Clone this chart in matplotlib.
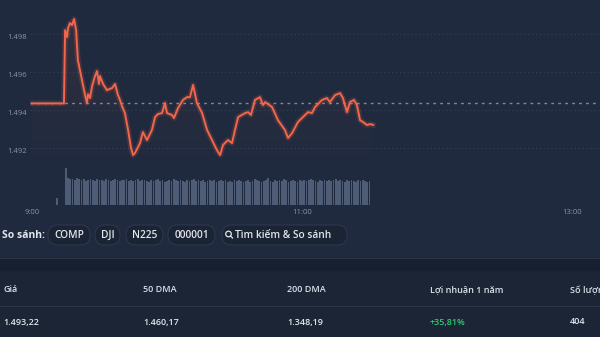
import numpy as np
import matplotlib.pyplot as plt
from matplotlib.patches import FancyBboxPatch, Circle, Rectangle
from matplotlib.lines import Line2D
from matplotlib.ticker import FuncFormatter
from matplotlib.colors import LinearSegmentedColormap

plt.rcParams['font.family'] = ['Open Sans', 'DejaVu Sans']

# minutes after 9:00 and index level
t_min = [0, 14.2, 14.7, 15.6, 16.0, 16.9, 17.8, 18.7, 19.6, 20.4, 22.2, 23.6, 24.4, 24.9,
         25.8, 26.7, 28.0, 28.9, 29.8, 30.2, 31.6, 33.3, 35.6, 36.9, 38.2, 39.1, 40.0,
         41.3, 42.7, 44.0, 44.9, 45.8, 48.0, 49.3, 51.1, 53.3, 54.7, 56.0, 57.8, 59.1,
         60.0, 62.2, 63.1, 64.9, 67.1, 68.9, 70.2, 71.6, 73.3, 75.6, 77.8, 80.0, 82.2,
         83.6, 84.9, 87.1, 88.9, 90.2, 91.6, 94.7, 96.0, 97.3, 99.1, 101.3, 102.7, 103.6,
         106.7, 109.3, 112.4, 113.8, 115.6, 118.2, 120.4, 122.7, 124.4, 125.8, 128.9,
         131.1, 132.4, 134.7, 136.9, 138.2, 140.0, 141.3, 143.1, 144.4, 145.8, 147.1,
         148.9, 150.2, 151.6]
price = [1494.35, 1494.35, 1498.21, 1497.84, 1498.32, 1498.58, 1498.47, 1498.79, 1498.21,
         1496.63, 1495.58, 1494.79, 1494.37, 1494.84, 1494.63, 1495.26, 1495.79, 1496.05,
         1495.37, 1495.79, 1495.37, 1495.05, 1495.16, 1495.37, 1494.79, 1494.53, 1494.21,
         1493.84, 1492.95, 1492.00, 1491.63, 1491.74, 1492.26, 1492.84, 1492.42, 1492.95,
         1493.63, 1493.79, 1493.84, 1494.37, 1493.84, 1493.74, 1493.58, 1494.11, 1494.53,
         1494.68, 1494.68, 1495.32, 1494.37, 1493.84, 1492.95, 1492.42, 1491.89, 1491.63,
         1492.16, 1492.42, 1492.26, 1492.95, 1493.63, 1493.84, 1493.89, 1493.74, 1494.53,
         1494.68, 1494.26, 1494.42, 1494.16, 1493.47, 1492.95, 1492.53, 1492.79, 1493.37,
         1493.63, 1493.89, 1493.84, 1494.16, 1494.53, 1494.63, 1494.42, 1494.79, 1494.89,
         1494.63, 1493.89, 1494.42, 1494.53, 1494.26, 1493.47, 1493.37, 1493.21, 1493.26,
         1493.22]
ref_price = 1494.35

vol_t = [11] + list(range(15, 151))
volume = [7, 35, 26, 25, 25, 24, 26, 25, 24, 25, 23, 24, 25, 24, 23, 25, 24, 24, 23, 25,
          24, 23, 24, 25, 24, 23, 24, 24, 25, 23, 24, 23, 24, 25, 23, 24, 24, 23, 22, 24,
          23, 24, 25, 23, 24, 22, 23, 24, 23, 25, 24, 23, 24, 23, 22, 24, 23, 24, 25, 23,
          24, 23, 24, 22, 23, 24, 23, 24, 22, 23, 24, 23, 24, 22, 23, 22, 24, 23, 24, 23,
          22, 23, 24, 22, 23, 25, 24, 23, 22, 23, 24, 26, 23, 22, 24, 23, 24, 23, 25, 24,
          22, 23, 24, 23, 22, 24, 23, 24, 23, 24, 25, 24, 23, 22, 24, 23, 24, 23, 24, 23,
          24, 25, 23, 24, 23, 22, 24, 23, 24, 23, 22, 24, 23, 24, 23, 22, 23]

x_ticks = [0, 120, 240]
x_labels = ['9:00', '11:00', '13:00']
y_ticks = [1492, 1494, 1496, 1498]

headers = ['Giá', '50 DMA', '200 DMA', 'Lợi nhuận 1 năm', 'Số lượng']
values = ['1.493,22', '1.460,17', '1.348,19', '+35,81%', '404']
compare = ['COMP', 'DJI', 'N225', '000001']

BG = '#1f2a3e'
BG2 = '#1c2536'
LINE = '#f2664b'
GREY = '#8b94a6'
TXT = '#e2e6ec'
W, H = 600, 337

fig = plt.figure(figsize=(6, 3.37), dpi=100, facecolor=BG)


def fx(px):
    return px / W


def fy(py):
    return 1 - py / H


# lower panel backgrounds
fig.add_artist(Rectangle((0, 0), 1, fy(258), transform=fig.transFigure, color=BG2, zorder=0))
fig.add_artist(Rectangle((0, fy(270)), 1, fy(258) - fy(270), transform=fig.transFigure,
                         color='#172030', zorder=0))
fig.add_artist(Line2D([0, 1], [fy(258), fy(258)], transform=fig.transFigure, color='#2a3446', lw=0.8))
fig.add_artist(Line2D([0, 1], [fy(306), fy(306)], transform=fig.transFigure, color='#2a3446', lw=0.8))

# price chart
x0 = -2 / 2.25
x1 = 568 / 2.25
y0, y1 = 1490.5, 1499.53
ax = fig.add_axes([fx(30), fy(160), fx(570), 155 / H])
ax.set_facecolor('none')
ax.set_xlim(x0, x1)
ax.set_ylim(1491.37, y1)

# soft gradient under the line
poly = ax.fill_between(t_min, price, y0, color='none', lw=0)
cmap = LinearSegmentedColormap.from_list('g', [(0.95, 0.4, 0.3, 0.0), (0.95, 0.4, 0.3, 0.09)])
grad = np.linspace(0, 1, 100).reshape(-1, 1)
im = ax.imshow(grad, cmap=cmap, aspect='auto', origin='lower',
               extent=[x0, x1, y0, 1498.9], zorder=1)
im.set_clip_path(poly.get_paths()[0], transform=ax.transData)
ax.set_xlim(x0, x1)
ax.set_ylim(1491.37, y1)

ax.plot(t_min, price, color=LINE, lw=4, alpha=0.18, solid_joinstyle='round', zorder=3)
ax.plot(t_min, price, color=LINE, lw=1.4, solid_joinstyle='round', zorder=4)
ax.axhline(ref_price, color='#7e889b', lw=1.0, ls=(0, (2, 3)), zorder=2)
ax.set_yticks(y_ticks)
ax.yaxis.set_major_formatter(FuncFormatter(lambda v, p: '{:,.0f}'.format(v).replace(',', '.')))
ax.grid(axis='y', color='#3a4559', lw=0.7, ls=(0, (1, 3)))
ax.set_xticks([])
ax.tick_params(axis='y', length=0, pad=2, labelsize=5.5, labelcolor=GREY)
for lbl in ax.get_yticklabels():
    lbl.set_va('top')
for s in ax.spines.values():
    s.set_visible(False)

# volume bars
axv = fig.add_axes([fx(30), fy(205), fx(570), 40 / H])
axv.set_facecolor('none')
axv.set_xlim(x0, x1)
axv.set_ylim(0, 38)
axv.bar(vol_t, volume, width=0.8, color='#5b6983', alpha=0.8, lw=0)
axv.set_yticks([])
axv.set_xticks(x_ticks)
axv.set_xticklabels(x_labels)
axv.tick_params(axis='x', length=0, pad=3, labelsize=5.5, labelcolor=GREY)
for s in axv.spines.values():
    s.set_visible(False)

# compare row
fig.text(fx(2), fy(235), 'So sánh:', color=TXT, fontsize=7.5, fontweight='bold', va='center')
pill_x = [(48, 90), (95, 120), (126, 163), (168, 215), (222, 347)]
for (a, b), name in zip(pill_x, compare + ['Tìm kiếm & So sánh']):
    fig.add_artist(FancyBboxPatch((fx(a), fy(245)), fx(b - a), 20 / H,
                                  boxstyle='round,pad=0,rounding_size=0.016',
                                  transform=fig.transFigure, fc='#1b2434', ec='#2c374b', lw=0.8,
                                  mutation_aspect=W / H))
    if name.startswith('Tìm'):
        fig.text(fx(a + 13), fy(235), name, color=TXT, fontsize=7.3, fontweight='semibold',
                 va='center')
        fig.add_artist(Circle((2.285, 1.03), 0.028, transform=fig.dpi_scale_trans,
                              fill=False, ec=TXT, lw=0.9))
        fig.add_artist(Line2D([2.305, 2.325], [1.01, 0.99], transform=fig.dpi_scale_trans,
                              color=TXT, lw=0.9))
    else:
        fig.text(fx((a + b) / 2), fy(235), name, color=TXT, fontsize=7.3, fontweight='semibold',
                 ha='center', va='center')

# stats table
col_x = [3, 143, 287, 430, 570]
for cx, hd, val in zip(col_x, headers, values):
    fig.text(fx(cx), fy(290), hd, color='#dde2ea', fontsize=6.5, fontweight='semibold',
             va='center')
    fig.text(fx(cx), fy(322), val, fontsize=6.5, fontweight='semibold', va='center',
             color='#2ecc71' if val.startswith('+') else TXT)

fig.savefig('out.png', dpi=100, facecolor=BG)
